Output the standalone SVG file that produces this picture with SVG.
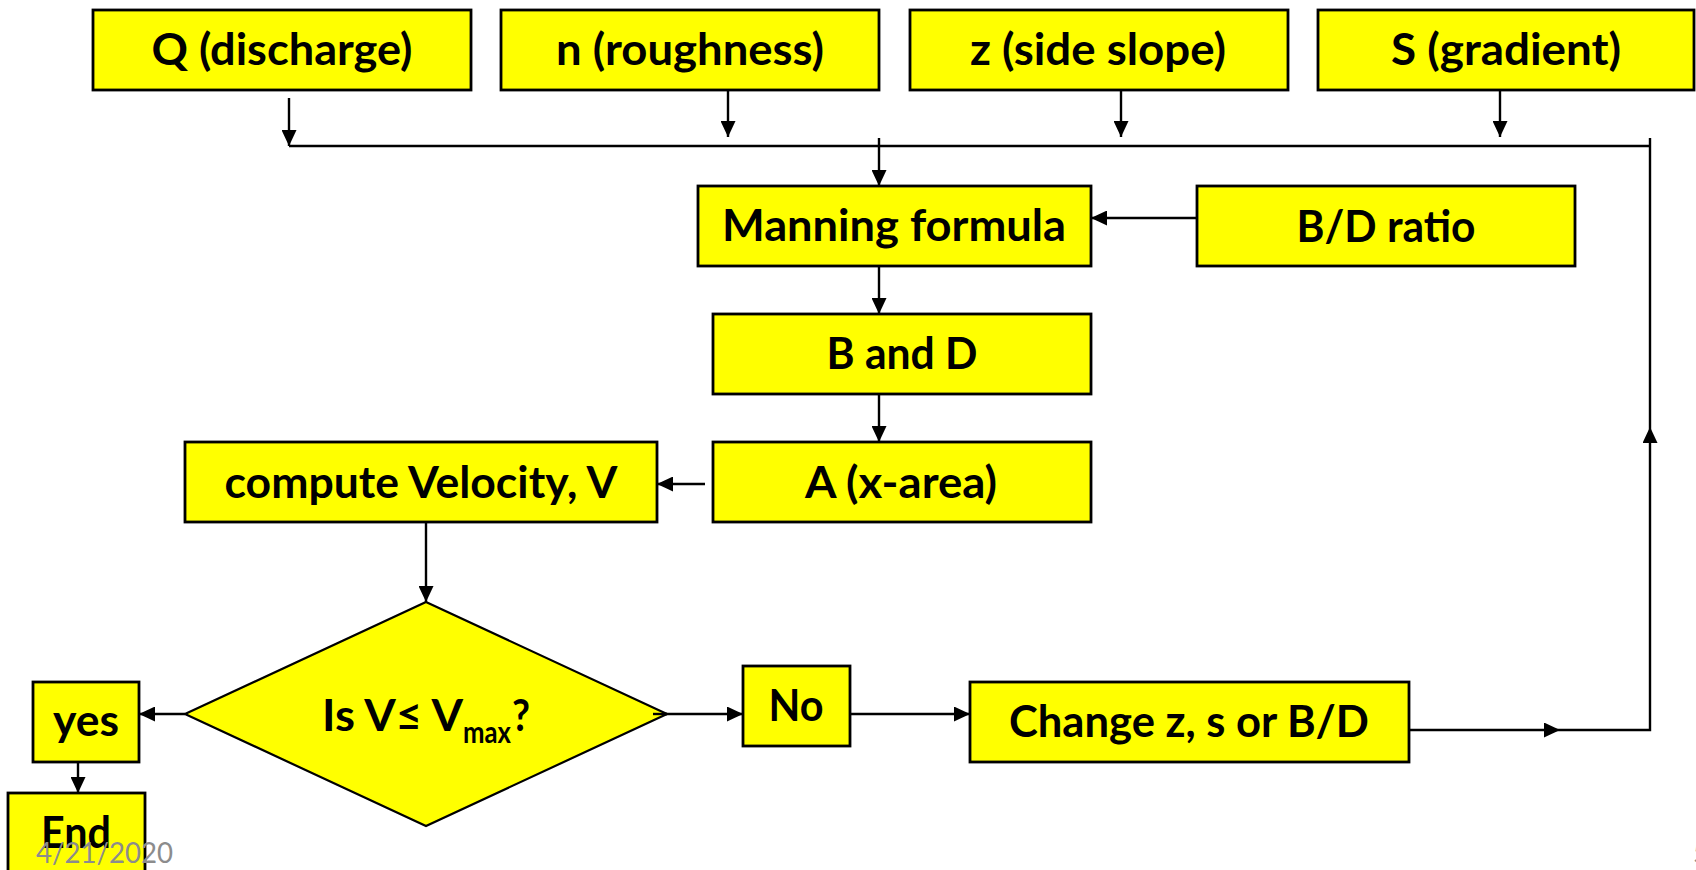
<svg xmlns="http://www.w3.org/2000/svg" width="1696" height="870" viewBox="0 0 1696 870">
<style>
.box{fill:#FFFF00;stroke:#000;stroke-width:2.8}
.dia{fill:#FFFF00;stroke:#000;stroke-width:2.2}
.t{font-family:Lato,"Open Sans","Liberation Sans",sans-serif;font-weight:bold;font-size:43px;fill:#000;text-anchor:middle}
.ts{font-family:Lato,"Open Sans","Liberation Sans",sans-serif;font-weight:bold;fill:#000}
.ln{fill:none;stroke:#000;stroke-width:2.4}
.ft{font-family:Lato,"Open Sans","Liberation Sans",sans-serif;font-size:28px;fill:#8c8c8c}
</style>
<defs>
<marker id="ah" markerUnits="userSpaceOnUse" markerWidth="16" markerHeight="15" refX="16" refY="7.5" orient="auto">
<path d="M0,0 L16,7.5 L0,15 z" fill="#000"/>
</marker>
</defs>
<rect width="1696" height="870" fill="#fff"/>
<g id="connectors">
<line class="ln" x1="289" y1="98" x2="289" y2="146" marker-end="url(#ah)"/>
<line class="ln" x1="728" y1="90" x2="728" y2="137" marker-end="url(#ah)"/>
<line class="ln" x1="1121" y1="90" x2="1121" y2="137" marker-end="url(#ah)"/>
<line class="ln" x1="1500" y1="90" x2="1500" y2="137" marker-end="url(#ah)"/>
<line class="ln" x1="289" y1="146" x2="1650" y2="146"/>
<line class="ln" x1="879" y1="138" x2="879" y2="186" marker-end="url(#ah)"/>
<line class="ln" x1="1197" y1="218" x2="1091" y2="218" marker-end="url(#ah)"/>
<line class="ln" x1="879" y1="266" x2="879" y2="314" marker-end="url(#ah)"/>
<line class="ln" x1="879" y1="394" x2="879" y2="442" marker-end="url(#ah)"/>
<line class="ln" x1="705" y1="484" x2="657" y2="484" marker-end="url(#ah)"/>
<line class="ln" x1="426" y1="522" x2="426" y2="602" marker-end="url(#ah)"/>
<line class="ln" x1="185" y1="714" x2="139" y2="714" marker-end="url(#ah)"/>
<line class="ln" x1="653" y1="714" x2="743" y2="714" marker-end="url(#ah)"/>
<line class="ln" x1="850" y1="714" x2="970" y2="714" marker-end="url(#ah)"/>
<line class="ln" x1="78" y1="762" x2="78" y2="793" marker-end="url(#ah)"/>
<line class="ln" x1="1409" y1="730" x2="1560" y2="730" marker-end="url(#ah)"/>
<polyline class="ln" points="1560,730 1650,730 1650,427" marker-end="url(#ah)"/>
<line class="ln" x1="1650" y1="427" x2="1650" y2="138"/>
</g>
<g id="q"><rect class="box" x="93" y="10" width="378" height="80"/><text class="t" x="282" y="65" textLength="261" lengthAdjust="spacingAndGlyphs">Q (discharge)</text></g>
<g id="n"><rect class="box" x="501" y="10" width="378" height="80"/><text class="t" x="690" y="65" textLength="268" lengthAdjust="spacingAndGlyphs">n (roughness)</text></g>
<g id="z"><rect class="box" x="910" y="10" width="378" height="80"/><text class="t" x="1098" y="65" textLength="256" lengthAdjust="spacingAndGlyphs">z (side slope)</text></g>
<g id="s"><rect class="box" x="1318" y="10" width="376" height="80"/><text class="t" x="1506" y="65" textLength="230" lengthAdjust="spacingAndGlyphs">S (gradient)</text></g>
<g id="manning"><rect class="box" x="698" y="186" width="393" height="80"/><text class="t" x="894" y="241" textLength="344" lengthAdjust="spacingAndGlyphs">Manning formula</text></g>
<g id="bd"><rect class="box" x="1197" y="186" width="378" height="80"/><text class="t" x="1386" y="242" textLength="179" lengthAdjust="spacingAndGlyphs">B/D ratio</text></g>
<g id="bandd"><rect class="box" x="713" y="314" width="378" height="80"/><text class="t" x="902" y="369" textLength="151" lengthAdjust="spacingAndGlyphs">B and D</text></g>
<g id="a"><rect class="box" x="713" y="442" width="378" height="80"/><text class="t" x="901" y="498" textLength="192" lengthAdjust="spacingAndGlyphs">A (x-area)</text></g>
<g id="v"><rect class="box" x="185" y="442" width="472" height="80"/><text class="t" x="421" y="498" textLength="393" lengthAdjust="spacingAndGlyphs">compute Velocity, V</text></g>
<g id="decision"><polygon class="dia" points="426,602 667,714 426,826 185,714"/>
<text class="ts" x="322" y="731" font-size="43" textLength="141" lengthAdjust="spacingAndGlyphs">Is V≤ V</text>
<text class="ts" x="463" y="743" font-size="30" textLength="48" lengthAdjust="spacingAndGlyphs">max</text>
<text class="ts" x="512" y="731" font-size="43" textLength="18" lengthAdjust="spacingAndGlyphs">?</text>
<line class="ln" x1="653" y1="714" x2="667" y2="714"/></g>
<g id="no"><rect class="box" x="743" y="666" width="107" height="80"/><text class="t" x="796" y="721" textLength="55" lengthAdjust="spacingAndGlyphs">No</text></g>
<g id="change"><rect class="box" x="970" y="682" width="439" height="80"/><text class="t" x="1189" y="737" textLength="360" lengthAdjust="spacingAndGlyphs">Change z, s or B/D</text></g>
<g id="yes"><rect class="box" x="33" y="682" width="106" height="80"/><text class="t" x="86" y="736" textLength="66" lengthAdjust="spacingAndGlyphs">yes</text></g>
<g id="end"><rect class="box" x="8" y="793" width="137" height="80"/><text class="t" x="76" y="848" textLength="70" lengthAdjust="spacingAndGlyphs">End</text></g>
<text class="ft" x="36" y="863" textLength="137" lengthAdjust="spacingAndGlyphs">4/21/2020</text>
<text class="ft" x="1693" y="863">5</text>
</svg>
